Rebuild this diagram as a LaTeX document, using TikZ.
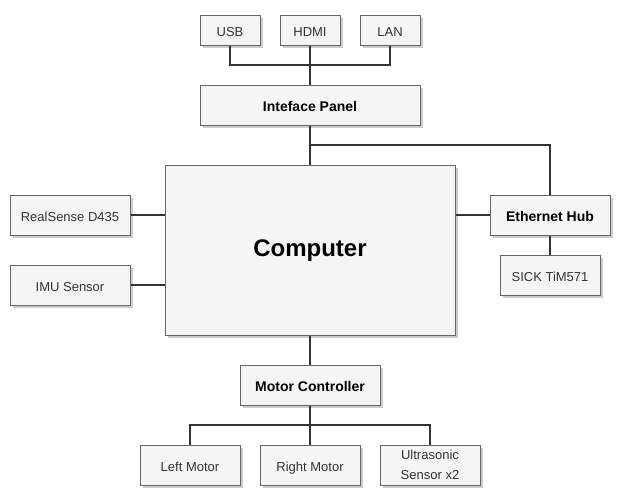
\documentclass[tikz,border=0pt]{standalone}
\usepackage{fontspec}
\setmainfont{Liberation Sans}
\usetikzlibrary{shadows}

\definecolor{boxfill}{HTML}{F5F5F5}
\definecolor{boxline}{HTML}{666666}
\definecolor{wire}{HTML}{333333}

\begin{document}
\begin{tikzpicture}[
  x=0.75pt, y=-0.75pt,
  every node/.style={font=\fontsize{9.75}{12}\selectfont, text=wire},
  part/.style={rectangle, draw=boxline, fill=boxfill, line width=0.75pt,
    inner sep=2pt, align=center, text height=1em, text depth=0pt,
    drop shadow={shadow xshift=2pt, shadow yshift=-2pt, fill=black, opacity=0.2}},
  head/.style={part, font=\bfseries\fontsize{10.5}{12}\selectfont, text=black},
  link/.style={draw=wire, line width=1.5pt}
]
  \useasboundingbox (0,0) rectangle (621,496);

  % ports
  \node[part, minimum width=45pt, minimum height=22.5pt] (usb) at (230,30) {USB};
  \node[part, minimum width=45pt, minimum height=22.5pt] (hdmi) at (310,30) {HDMI};
  \node[part, minimum width=45pt, minimum height=22.5pt] (lan) at (390,30) {LAN};
  \node[head, minimum width=165pt, minimum height=30pt] (panel) at (310,105) {Inteface Panel};

  % computer and sensors
  \node[part, minimum width=217.5pt, minimum height=127.5pt, text=black,
    font=\bfseries\fontsize{18}{21}\selectfont] (comp) at (310,250) {Computer};
  \node[part, minimum width=90pt, minimum height=30pt] (realsense) at (70,215) {RealSense D435};
  \node[part, minimum width=90pt, minimum height=30pt] (imu) at (70,285) {IMU Sensor};
  \node[head, minimum width=90pt, minimum height=30pt] (hub) at (550,215) {Ethernet Hub};
  \node[part, minimum width=75pt, minimum height=30pt] (sick) at (550,275) {SICK TiM571};

  % motors
  \node[head, minimum width=105pt, minimum height=30pt] (motor) at (310,385) {Motor Controller};
  \node[part, minimum width=75pt, minimum height=30pt] (left) at (190,465) {Left Motor};
  \node[part, minimum width=75pt, minimum height=30pt] (right) at (310,465) {Right Motor};
  \node[part, minimum width=75pt, minimum height=30pt, text height=, text depth=,
    font=\fontsize{9.75}{15}\selectfont] (ultra) at (430,465) {Ultrasonic\\Sensor x2};

  \coordinate (topbus) at (310,65);
  \coordinate (ethbend) at (550,145);
  \coordinate (motorbus) at (310,425);

  \draw[link] (usb.south) |- (topbus) -| (lan.south);
  \draw[link] (hdmi) -- (panel);
  \draw[link] (panel) -- (comp);
  \draw[link] (panel.south) |- (ethbend) -- (hub.north);
  \draw[link] (comp.east |- hub) -- (hub);
  \draw[link] (hub) -- (sick);
  \draw[link] (realsense) -- (comp.west |- realsense);
  \draw[link] (imu) -- (comp.west |- imu);
  \draw[link] (comp) -- (motor);
  \draw[link] (left.north) |- (motorbus) -| (ultra.north);
  \draw[link] (motor) -- (right);
\end{tikzpicture}
\end{document}
